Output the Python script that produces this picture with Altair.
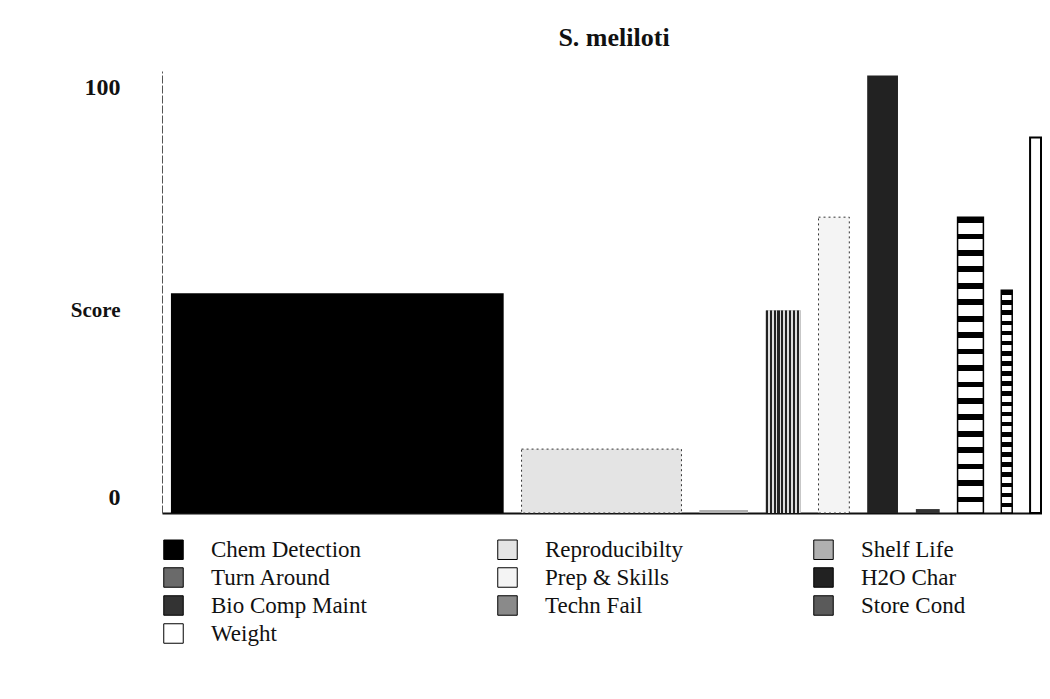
import altair as alt
import pandas as pd

# ---- data ----
names = ["Chem Detection", "Reproducibilty", "Shelf Life", "Turn Around",
         "Prep & Skills", "H2O Char", "Bio Comp Maint", "Techn Fail",
         "Store Cond", "Weight"]
scores = [50.2, 14.6, 0.7, 46.3, 67.6, 100.0, 0.9, 67.6, 50.9, 85.8]
# relative bar widths (variable-width bars)
widths = [335, 161, 49, 35, 31, 31, 24, 26, 11, 11]
y_ticks = [0, 100]

GAP = 18
LEAD = 9
x0, x1 = [], []
pos = LEAD
for w in widths:
    x0.append(pos)
    x1.append(pos + w)
    pos += w + GAP
XMAX = 886

df = pd.DataFrame({"name": names, "score": scores, "x0": x0, "x1": x1})

fills = ["#000000", "#e4e4e4", "#b0b0b0", "#6a6a6a", "#f4f4f4",
         "#222222", "#333333", "#8a8a8a", "#5a5a5a", "#ffffff"]

SERIF = "Liberation Serif"


def stripes(n, frac, dark="#000000", light="#ffffff", vertical=False):
    stops = []
    for i in range(n):
        a = i / n
        b = (i + frac) / n
        c = (i + 1) / n
        stops += [alt.GradientStop(offset=a, color=dark),
                  alt.GradientStop(offset=b, color=dark),
                  alt.GradientStop(offset=b, color=light),
                  alt.GradientStop(offset=c, color=light)]
    if vertical:
        return alt.LinearGradient(gradient="linear", stops=stops, x1=0, x2=1, y1=0, y2=0)
    return alt.LinearGradient(gradient="linear", stops=stops, x1=0, x2=0, y1=0, y2=1)


base = alt.Chart(df).encode(
    x=alt.X("x0:Q", scale=alt.Scale(domain=[0, XMAX], nice=False, zero=False),
            axis=alt.Axis(labels=False, ticks=False, title=None, grid=False,
                          domainColor="#111111", domainWidth=2)),
    x2="x1:Q",
    y=alt.Y("score:Q", scale=alt.Scale(domain=[0, 101], nice=False),
            axis=alt.Axis(values=y_ticks, grid=False, ticks=False,
                          labelPadding=42, labelFont=SERIF, labelFontSize=24,
                          labelFontWeight="bold", labelColor="#111111",
                          labelOffset={"condition": {"test": "datum.value == 0", "value": -16}, "value": 12},
                          domainColor="#555555", domainWidth=1, domainDash=[8, 2],
                          title="Score", titleAngle=0, titleAlign="right",
                          titleBaseline="middle", titleX=-42, titleY=239,
                          titleFont=SERIF, titleFontSize=21, titleFontWeight="bold",
                          titleColor="#111111")),
    y2=alt.datum(0),
)

bars = base.mark_bar().encode(
    color=alt.Color("name:N", scale=alt.Scale(domain=names, range=fills),
                    sort=names,
                    legend=alt.Legend(title=None, orient="none", legendX=0, legendY=467,
                                      columns=3, direction="horizontal",
                                      symbolType="square", symbolSize=380,
                                      symbolStrokeColor="#000000", symbolStrokeWidth=1,
                                      labelFont=SERIF, labelFontSize=23, labelColor="#111111",
                                      labelOffset=26, rowPadding=3, columnPadding=128,
                                      labelLimit=400)),
)

techn = base.mark_bar(fill=stripes(18, 0.35), stroke="#000000", strokeWidth=1.5).transform_filter(
    alt.datum.name == "Techn Fail")
store = base.mark_bar(fill=stripes(22, 0.45), stroke="#000000", strokeWidth=1.5).transform_filter(
    alt.datum.name == "Store Cond")
turn = base.mark_bar(fill=stripes(9, 0.55, dark="#222222", light="#dddddd", vertical=True)).transform_filter(
    alt.datum.name == "Turn Around")
weight = base.mark_bar(fill="#ffffff", stroke="#000000", strokeWidth=2).transform_filter(
    alt.datum.name == "Weight")
dotted = base.mark_bar(fill="none", stroke="#333333", strokeWidth=1, strokeDash=[2, 3]).transform_filter(
    (alt.datum.name == "Reproducibilty") | (alt.datum.name == "Prep & Skills"))

chart = alt.layer(bars, techn, store, turn, weight, dotted).properties(
    width=880, height=442,
    autosize=alt.AutoSizeParams(type="none"),
    padding={"left": 154, "top": 63, "right": 0, "bottom": 178},
    title=alt.TitleParams("S. meliloti", font=SERIF, fontSize=26, fontWeight="bold",
                          color="#111111", anchor="middle", offset=20, dx=12),
).configure(background="white").configure_view(stroke=None)

chart.save("out.html", embed_options={"renderer": "svg", "actions": False})
